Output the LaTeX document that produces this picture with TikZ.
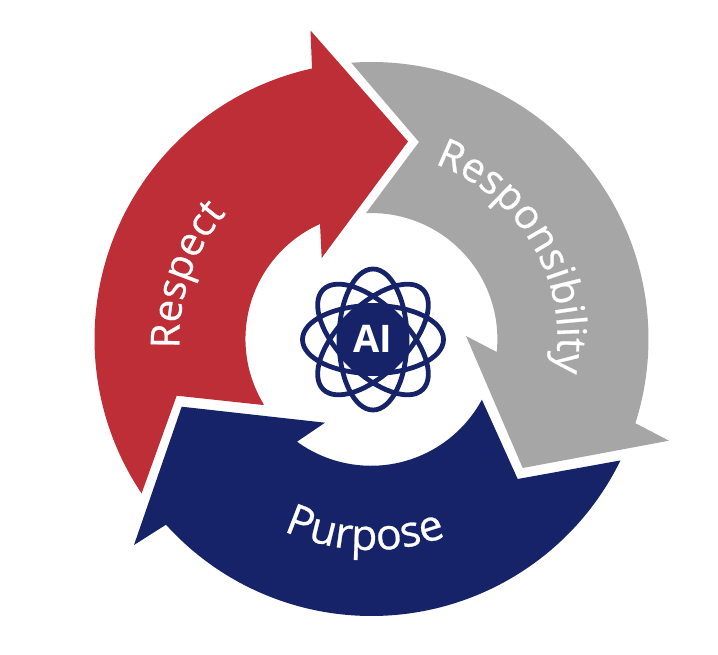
\documentclass[tikz,border=0pt]{standalone}
\usepackage{fontspec}
\setmainfont{Open Sans}
\newfontfamily\lblfont[RawFeature={embolden=0.6}]{Open Sans}
\usetikzlibrary{decorations.text}
\definecolor{cred}{HTML}{BE2E37}
\definecolor{cgrey}{HTML}{A6A6A6}
\definecolor{cnavy}{HTML}{172368}
\tikzset{
  orbit/.style={draw=cnavy,line width=4.8pt,x=1pt,y=1pt},
  curved/.style 2 args={decorate,decoration={text along path,text align=center,text color=white,
    text={|\lblfont\fontsize{#1}{#1}\selectfont|#2}}}
}
\begin{document}
\begin{tikzpicture}[x=1pt,y=1pt]
\useasboundingbox (0,0) rectangle (718,654);
\coordinate (c) at (371.5,315);
\coordinate (atom) at (373,314.5);
% Respect
\fill[cred] (c) ++(213.9:277) arc[start angle=213.9,end angle=102.4,radius=277]
  -- (310.5,623.5) -- (408,512.5) -- (321.7,396) -- (320,430)
  arc[start angle=114.1,end angle=211.3,radius=126]
  -- (263,249) -- (176.7,258.3) -- cycle;
% Responsibility
\fill[cgrey] (c) ++(94.2:277) arc[start angle=94.2,end angle=-17.7,radius=277]
  -- (669,213.3) -- (522.7,186) -- (466,318) -- (496.7,302)
  arc[start angle=-5.9,end angle=92.5,radius=126]
  -- (419,512) -- cycle;
% Purpose
\fill[cnavy] (c) ++(-26:277) arc[start angle=-26,end angle=-137.9,radius=277]
  -- (134,109) -- (181.7,247.3) -- (325,231.3) -- (297,212.3)
  arc[start angle=-126,end angle=-28.4,radius=126]
  -- (517.7,175) -- cycle;
% labels
\path[curved={40}{Respect}] (c) ++(221:192) arc[start angle=221,end angle=101,radius=192];
\path[curved={40.5}{Responsibility}] (c) ++(90:186) arc[start angle=90,end angle=-30,radius=186];
\path[curved={43}{Purpose}] (c) ++(-152:211) arc[start angle=-152,end angle=-32,radius=211];
% atom
\fill[cnavy] (atom) circle[radius=34];
\foreach \a in {0,45,90,135}
  \draw[orbit] (atom) ellipse[x radius=70.5,y radius=34,rotate=\a];
\node[text=white,font=\fontsize{38}{38}\selectfont\bfseries] (ai) at (373,315) {AI};
\end{tikzpicture}
\end{document}
